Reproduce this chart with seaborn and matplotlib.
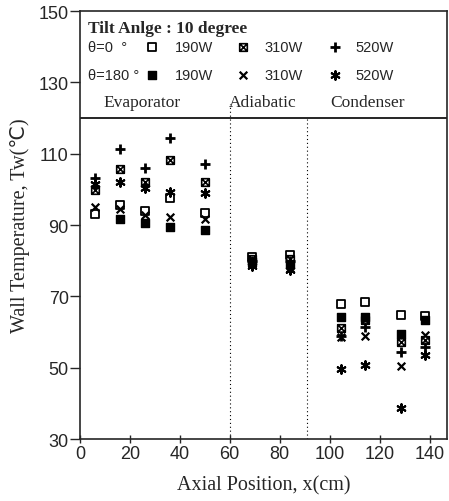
import numpy as np
import pandas as pd
import matplotlib
matplotlib.use("Agg")
import matplotlib.pyplot as plt
from matplotlib.path import Path
import seaborn as sns

# axial positions of thermocouples (cm)
positions = [6, 16, 26, 36, 50, 69, 84, 104.5, 114, 128.5, 138]

# wall temperatures
t0_190 = [93.0, 95.6, 94.0, 97.5, 93.3, 81.0, 81.5, 67.8, 68.3, 64.7, 64.5]
t0_310 = [99.7, 105.6, 102.2, 108.3, 102.2, 80.5, 80.5, 61.0, 63.5, 57.2, 57.8]
t0_520 = [103.1, 111.4, 106.1, 114.4, 107.0, 80.0, 80.0, 58.8, 61.4, 54.4, 55.8]
t180_190 = [np.nan, 91.7, 90.6, 89.4, 88.6, 79.5, 79.0, 64.2, 64.2, 59.4, 63.5]
t180_310 = [95.0, 94.5, 92.8, 92.2, 91.7, 79.0, 78.0, 58.5, 58.9, 50.6, 59.2]
t180_520 = [101.5, 102.2, 100.3, 99.4, 98.9, 78.5, 77.5, 49.7, 50.8, 38.6, 53.6]

regions = ["Evaporator", "Adiabatic", "Condenser"]
region_x = [25, 73, 115]
section_bounds = [60, 91]

sns.set_style("ticks")
plt.rcParams['font.family'] = ['Liberation Sans', 'DejaVu Sans']
serif = ['Liberation Serif', 'DejaVu Sans']

# square with a cross inside
boxx = Path([(-1, -1), (1, -1), (1, 1), (-1, 1), (-1, -1),
             (-1, -1), (1, 1), (-1, 1), (1, -1)],
            [Path.MOVETO, Path.LINETO, Path.LINETO, Path.LINETO, Path.CLOSEPOLY,
             Path.MOVETO, Path.LINETO, Path.MOVETO, Path.LINETO])
star = (6, 2, 0)

series = [
    ("θ=0° 190W", t0_190, dict(marker="s", s=30, color="white", edgecolor="black", linewidth=1.3)),
    ("θ=0° 310W", t0_310, dict(marker=boxx, s=30, color="white", edgecolor="black", linewidth=1.2)),
    ("θ=0° 520W", t0_520, dict(marker="+", s=42, color="black", linewidth=2.0)),
    ("θ=180° 190W", t180_190, dict(marker="s", s=30, color="black", edgecolor="black", linewidth=1)),
    ("θ=180° 310W", t180_310, dict(marker="x", s=30, color="black", linewidth=1.6)),
    ("θ=180° 520W", t180_520, dict(marker=star, s=38, color="black", linewidth=1.5)),
]

fig = plt.figure(figsize=(4.49, 5.02), dpi=100)
ax = fig.add_axes([0.178, 0.1235, 0.8175, 0.8525])

for name, vals, kw in series:
    df = pd.DataFrame({"x": positions, "T": vals})
    sns.scatterplot(data=df, x="x", y="T", ax=ax, zorder=3, legend=False, **kw)

# section separators
ax.axhline(120, color="black", lw=1.2)
ax.plot([section_bounds[0]] * 2, [30, 124], ls=(0, (1, 2.5)), color="black", lw=0.8)
ax.plot([section_bounds[1]] * 2, [30, 120], ls=(0, (1, 2.5)), color="black", lw=0.8)
for lab, xx in zip(regions, region_x):
    ax.text(xx, 124.6, lab, ha="center", va="center", family=serif, fontsize=12.5)

# legend box written by hand like the original
ax.text(3.2, 145.2, "Tilt Anlge : 10 degree", family=serif, fontsize=12.5, fontweight="bold", va="center")
ax.text(3.2, 139.8, "θ=0  °", fontsize=10.5, va="center")
ax.text(3.2, 132.2, "θ=180 °", fontsize=10.5, va="center")
leg_x = [28.8, 65.2, 102]
txt_x = [38, 74, 110.4]
watts = ["190W", "310W", "520W"]
for i, (name, vals, kw) in enumerate(series):
    row, col = divmod(i, 3)
    yy = 139.8 if row == 0 else 132.2
    ax.scatter([leg_x[col]], [yy], zorder=3, **kw)
    ax.text(txt_x[col], yy, watts[col], fontsize=10.5, va="center")

ax.set_xlim(0, 147)
ax.set_ylim(30, 150)
ax.set_xticks(range(0, 141, 20))
ax.set_yticks(range(30, 151, 20))
ax.tick_params(axis="x", direction="inout", length=6, width=1, labelsize=13, pad=1)
ax.tick_params(axis="y", direction="out", length=7, width=1, labelsize=13, pad=1)
for sp in ax.spines.values():
    sp.set_linewidth(1.2)

ax.set_xlabel("Axial Position, x(cm)", family=serif, fontsize=14.5, labelpad=10)
ax.set_ylabel("Wall Temperature, Tw(℃)", family=serif, fontsize=14.5, labelpad=6)

fig.savefig("out.png", dpi=100)
